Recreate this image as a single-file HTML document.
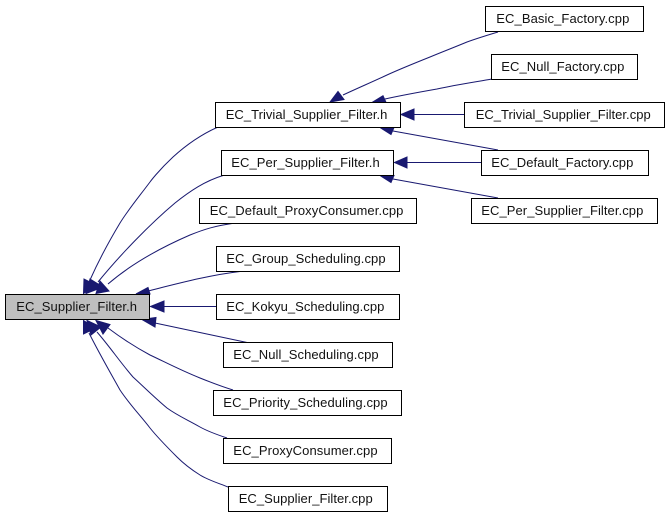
<!DOCTYPE html>
<html><head><meta charset="utf-8"><style>
html,body{margin:0;padding:0;background:#fff}
svg{display:block}
text{font-family:"Liberation Sans",sans-serif;font-size:13px;fill:#111}
rect{stroke:#000;stroke-width:1;fill:#fff}
.e{fill:none;stroke:#191970;stroke-width:1}
polygon{fill:#191970;stroke:#191970;stroke-width:1}
</style></head><body>
<svg width="669" height="515" viewBox="0 0 669 515" xmlns="http://www.w3.org/2000/svg">
<path class="e" d="M218,127C200,135 185,146 173,157C158,171 150,182 150,182C138,198 128,210 120,223C108,243 98,262 90,280"/>
<polygon points="83.500,293.500 84,279 97,285.500"/>
<path class="e" d="M223,175.500C205,181 190,191 175,203C150,224 120,255 98,282"/>
<polygon points="86,293.500 90,279 103,287"/>
<path class="e" d="M232,223.500C215,226 205,229 190,235C160,248 130,265 108,284"/>
<polygon points="96,293.500 100,281 109,291"/>
<path class="e" d="M240,271.500C210,275 180,283 148,291"/>
<polygon points="136,294 148,287.500 150,294"/>
<path class="e" d="M216,306.500H163"/>
<polygon points="150.500,306.500 164,301 164,312"/>
<path class="e" d="M247,342.500L155,323"/>
<polygon points="142,319.500 156,317.500 155,327"/>
<path class="e" d="M233,390C220,386 210,382 200,378C180,370 165,362 150,355C135,347 120,337 108,328"/>
<polygon points="96,320.500 110,324.500 103,334"/>
<path class="e" d="M227,438C218,435 209,432 200,427C188,420 178,416 167,408C155,398 145,388 133,377C120,362 110,347 97,332"/>
<polygon points="87,320.500 101,327 91,335"/>
<path class="e" d="M228,487C218,483 208,480 200,475C192,470 185,465 177,457C167,447 158,438 150,428C140,415 130,405 120,390C110,372 99,353 89,333"/>
<polygon points="83.500,320.500 96,328 83.500,334"/>
<path class="e" d="M498,32C488,35 478,38 467,42C455,47 442,52 430,57C415,63 400,69 387,75C372,82 358,88 343,95"/>
<polygon points="330,102 338,91.500 344,99.500"/>
<path class="e" d="M492,79C475,82 455,85 437,89C420,92 403,95 385,99"/>
<polygon points="372.700,102 383,95.700 385.700,101.700"/>
<path class="e" d="M464,114.500H413"/>
<polygon points="401,114.500 414,109 414,120"/>
<path class="e" d="M498,150L393,131"/>
<polygon points="380,127.500 394,127.500 391,134.500"/>
<path class="e" d="M481,162.500H407"/>
<polygon points="394.500,162.500 407,157 407,168"/>
<path class="e" d="M498,198L393,179"/>
<polygon points="380,175.500 394,175.500 391,182.500"/>
<rect x="5.500" y="294.500" width="144" height="25" style="fill:#bfbfbf"/><text x="16.300" y="311" textLength="120.700">EC_Supplier_Filter.h</text>
<rect x="215.500" y="102.500" width="185" height="25"/><text x="225.700" y="119" textLength="161.700">EC_Trivial_Supplier_Filter.h</text>
<rect x="221.500" y="150.500" width="172" height="25"/><text x="231.300" y="167" textLength="148.400">EC_Per_Supplier_Filter.h</text>
<rect x="199.500" y="198.500" width="217" height="25"/><text x="209.700" y="215" textLength="193.700">EC_Default_ProxyConsumer.cpp</text>
<rect x="216.500" y="246.500" width="183" height="25"/><text x="226.300" y="263" textLength="159.300">EC_Group_Scheduling.cpp</text>
<rect x="216.500" y="294.500" width="183" height="25"/><text x="226.300" y="311" textLength="158">EC_Kokyu_Scheduling.cpp</text>
<rect x="223.500" y="342.500" width="169" height="25"/><text x="233.300" y="359" textLength="145.300">EC_Null_Scheduling.cpp</text>
<rect x="213.500" y="390.500" width="188" height="25"/><text x="223.300" y="407" textLength="164.300">EC_Priority_Scheduling.cpp</text>
<rect x="223.500" y="438.500" width="168" height="25"/><text x="233.300" y="455" textLength="144.300">EC_ProxyConsumer.cpp</text>
<rect x="228.500" y="486.500" width="159" height="25"/><text x="238.700" y="503" textLength="134">EC_Supplier_Filter.cpp</text>
<rect x="485.500" y="6.500" width="158" height="25"/><text x="496.300" y="23" textLength="133">EC_Basic_Factory.cpp</text>
<rect x="491.500" y="54.500" width="146" height="25"/><text x="501.300" y="71" textLength="123">EC_Null_Factory.cpp</text>
<rect x="464.500" y="102.500" width="200" height="25"/><text x="475.700" y="119" textLength="175">EC_Trivial_Supplier_Filter.cpp</text>
<rect x="481.500" y="150.500" width="167" height="25"/><text x="491.300" y="167" textLength="142">EC_Default_Factory.cpp</text>
<rect x="471.500" y="198.500" width="186" height="25"/><text x="481.300" y="215" textLength="162">EC_Per_Supplier_Filter.cpp</text>
</svg>
</body></html>
